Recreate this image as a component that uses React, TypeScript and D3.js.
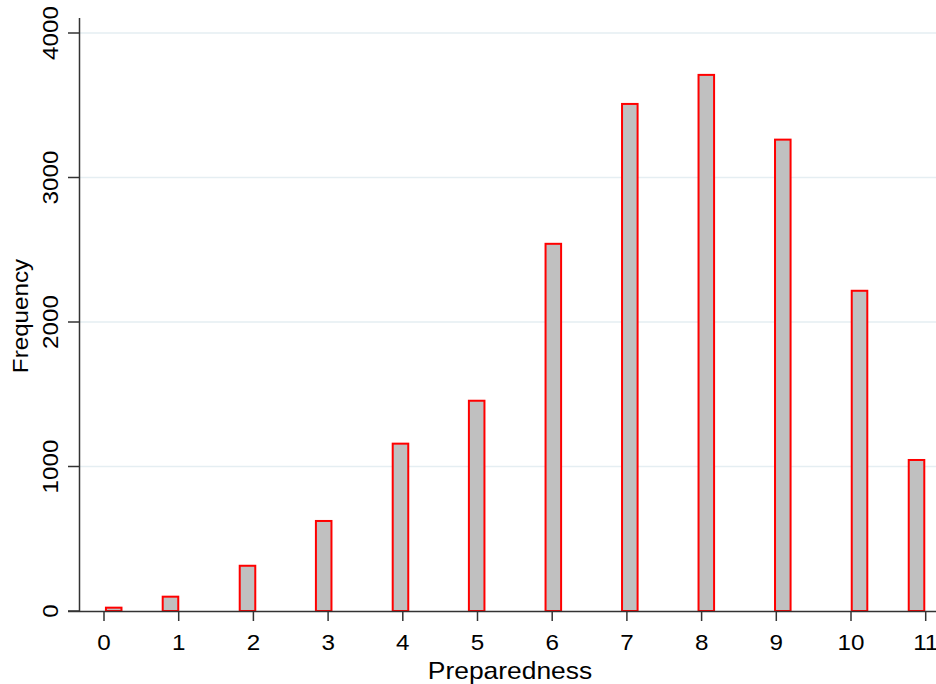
import React from "react";
import * as d3 from "d3";

const binCenters = [0.13, 0.89, 1.921, 2.941, 3.969, 4.989, 6.015, 7.039, 8.063, 9.087, 10.114, 10.877];
const frequencies = [30, 106, 320, 630, 1165, 1462, 2548, 3516, 3717, 3269, 2223, 1052];
const xTicks = [0, 1, 2, 3, 4, 5, 6, 7, 8, 9, 10, 11];
const yTicks = [0, 1000, 2000, 3000, 4000];
const binWidth = 0.235;

export default function App() {
  const W = 936, H = 684;
  const x = d3.scaleLinear().domain([0, 11]).range([104, 925.7]);
  const y = d3.scaleLinear().domain([0, 4000]).range([611, 33]);
  const font = "'Liberation Sans', Arial, sans-serif";
  const bw = x(binWidth) - x(0);
  const sx = 1.1;
  return (
    <div style={{ position: "fixed", left: 0, top: 0 }}>
      <svg width={W} height={H} style={{ display: "block", background: "#fff" }}>
        {yTicks.filter(t => t > 0).map(t => (
          <line key={"g" + t} x1={80} x2={936} y1={y(t)} y2={y(t)} stroke="#e5eef2" strokeWidth={1.5} />
        ))}
        {frequencies.map((f, i) => (
          <rect key={i}
            x={x(binCenters[i]) - bw / 2 + 1}
            y={y(f) + 1}
            width={bw - 2}
            height={y(0) - y(f) - 1}
            fill="#c0c0c0" stroke="#ff0000" strokeWidth={2} />
        ))}
        {/* y axis */}
        <line x1={79.5} x2={79.5} y1={18} y2={612} stroke="#333" strokeWidth={1.5} />
        {yTicks.map(t => (
          <g key={"y" + t}>
            <line x1={68} x2={80} y1={y(t)} y2={y(t)} stroke="#333" strokeWidth={1.5} />
            <text transform={`translate(${58},${y(t)}) rotate(-90) scale(${sx},1)`} textAnchor="middle"
              fontFamily={font} fontSize={22} fill="#000">{t}</text>
          </g>
        ))}
        <text transform={`translate(28,316) rotate(-90) scale(${sx},1)`} textAnchor="middle"
          fontFamily={font} fontSize={22} fill="#000">Frequency</text>
        {/* x axis */}
        <line x1={68} x2={936} y1={611.5} y2={611.5} stroke="#333" strokeWidth={1.5} />
        {xTicks.map(t => (
          <g key={"x" + t}>
            <line x1={x(t)} x2={x(t)} y1={611} y2={621} stroke="#333" strokeWidth={1.5} />
            <text transform={`translate(${x(t)},650) scale(${sx},1)`} textAnchor="middle" fontFamily={font} fontSize={22} fill="#000">{t}</text>
          </g>
        ))}
        <text transform={`translate(510,679) scale(${sx},1)`} textAnchor="middle" fontFamily={font} fontSize={24} fill="#000">Preparedness</text>
      </svg>
    </div>
  );
}
